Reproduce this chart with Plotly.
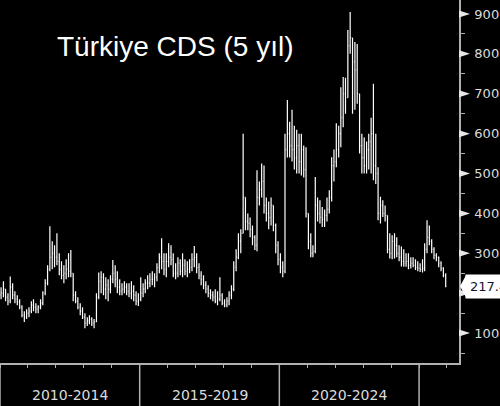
import plotly.graph_objects as go
import pandas as pd

# ---------------- data (monthly bars, Jan 2010 - Dec 2025) ----------------
start_month = "2010-01-01"
first_open = 195

high = [
    215, 230, 210, 200, 242, 225, 205, 195, 185, 170, 155, 160,   # 2010
    165, 180, 185, 175, 170, 185, 205, 235, 270, 368, 330, 320,   # 2011
    350, 300, 280, 270, 285, 300, 308, 250, 205, 190, 175, 165,   # 2012
    150, 140, 145, 140, 135, 200, 252, 255, 250, 240, 235, 245,   # 2013
    283, 270, 255, 235, 225, 230, 225, 225, 230, 220, 205, 200,   # 2014
    240, 225, 235, 245, 250, 255, 250, 275, 300, 338, 300, 300,   # 2015
    325, 320, 300, 275, 290, 285, 300, 285, 280, 285, 300, 318,   # 2016
    300, 275, 255, 245, 230, 220, 210, 205, 210, 205, 240, 200,   # 2017
    185, 190, 205, 220, 280, 310, 350, 360, 600, 440, 400, 390,   # 2018
    370, 345, 508, 480, 525, 520, 440, 430, 440, 420, 375, 330,   # 2019
    300, 280, 600, 684, 630, 660, 620, 610, 600, 600, 570, 566,   # 2020
    400, 350, 320, 491, 440, 433, 416, 410, 440, 458, 541, 560,   # 2021
    626, 620, 716, 742, 740, 860, 905, 840, 830, 825, 690, 600,   # 2022
    590, 580, 600, 640, 725, 600, 516, 442, 433, 420, 391, 350,   # 2023
    345, 350, 340, 320, 317, 310, 300, 300, 290, 290, 285, 280,   # 2024
    275, 285, 325, 383, 370, 335, 315, 300, 292, 280, 265, 250,   # 2025
]
low = [
    185, 190, 180, 170, 175, 185, 175, 170, 160, 140, 128, 135,
    140, 150, 155, 150, 150, 160, 170, 195, 220, 255, 260, 265,
    270, 245, 235, 225, 235, 240, 240, 180, 175, 160, 145, 135,
    112, 118, 122, 118, 112, 130, 185, 200, 195, 185, 180, 200,
    225, 215, 200, 195, 195, 200, 195, 190, 185, 180, 170, 168,
    180, 190, 200, 210, 215, 220, 215, 230, 250, 260, 245, 240,
    265, 270, 240, 235, 240, 245, 240, 245, 240, 250, 255, 265,
    250, 235, 220, 210, 200, 190, 185, 180, 175, 170, 180, 170,
    165, 165, 170, 185, 205, 255, 285, 300, 350, 358, 358, 340,
    320, 308, 305, 420, 440, 400, 380, 360, 370, 355, 300, 270,
    250, 240, 250, 540, 540, 530, 510, 500, 500, 495, 490, 390,
    310, 290, 290, 300, 380, 375, 366, 366, 380, 400, 430, 480,
    516, 540, 566, 616, 650, 690, 800, 650, 660, 675, 550, 500,
    500, 500, 510, 500, 483, 474, 383, 375, 391, 380, 300, 287,
    285, 287, 290, 280, 267, 266, 266, 260, 262, 265, 258, 255,
    253, 252, 255, 300, 320, 300, 285, 280, 265, 255, 240, 215,
]
close = [
    200, 210, 190, 180, 215, 195, 185, 178, 165, 145, 140, 150,
    155, 170, 165, 160, 165, 175, 200, 225, 260, 290, 300, 290,
    280, 260, 245, 250, 260, 255, 250, 195, 180, 165, 155, 140,
    125, 130, 135, 125, 128, 190, 230, 240, 210, 220, 210, 235,
    250, 235, 215, 205, 210, 215, 205, 200, 205, 195, 180, 185,
    200, 210, 225, 225, 235, 235, 240, 265, 290, 280, 260, 280,
    290, 285, 250, 250, 275, 255, 270, 255, 260, 265, 285, 290,
    265, 245, 235, 220, 210, 200, 195, 190, 180, 185, 195, 175,
    170, 180, 195, 210, 265, 290, 330, 350, 440, 380, 375, 360,
    340, 320, 440, 460, 480, 420, 400, 390, 420, 370, 320, 285,
    265, 255, 560, 600, 570, 560, 540, 570, 530, 560, 510, 400,
    330, 300, 305, 420, 400, 390, 385, 395, 410, 440, 520, 530,
    560, 600, 640, 700, 690, 820, 840, 780, 760, 700, 570, 540,
    520, 560, 580, 600, 520, 500, 400, 420, 400, 395, 310, 300,
    330, 320, 300, 290, 280, 275, 280, 270, 275, 270, 265, 262,
    260, 262, 310, 340, 330, 310, 295, 290, 275, 262, 245, 217.4,
]

y_ticks = [100, 200, 300, 400, 500, 600, 700, 800, 900]
y_minor = [50, 150, 250, 350, 450, 550, 650, 750, 850]
year_ticks = list(range(2010, 2027))
period_starts = [2010, 2015, 2020, 2025]
period_labels = ["2010-2014", "2015-2019", "2020-2024"]
title_text = "Türkiye CDS (5 yıl)"

# ---------------- derived ----------------
months = pd.date_range(start_month, periods=len(close), freq="MS") + pd.Timedelta(days=14)
opens = [first_open] + close[:-1]
hi = [max(h, o, c) for h, o, c in zip(high, opens, close)]
lo = [min(l, o, c) for l, o, c in zip(low, opens, close)]

W, H = 500, 406
ML, MR, MT, MB = 0, 41, 0, 43
plot_w = W - ML - MR
plot_h = H - MT - MB
y_range = [25, 935]


def ypaper(v):
    return (v - y_range[0]) / (y_range[1] - y_range[0])


axis_col = "#b0b0b0"
txt_col = "#dcdcdc"

fig = go.Figure()
fig.add_trace(go.Ohlc(
    x=months, open=opens, high=hi, low=lo, close=close,
    increasing=dict(line=dict(color="white", width=1.2)),
    decreasing=dict(line=dict(color="white", width=1.2)),
    tickwidth=0.35, hoverinfo="skip", showlegend=False,
))

shapes = []
# triangle markers on the major y ticks (paper coordinates derived from the axis range)
tri_w = 11 / plot_w
tri_h = 3.5 / plot_h
for v in y_ticks:
    yp = ypaper(v)
    shapes.append(dict(
        type="path", xref="paper", yref="paper",
        path=f"M 1.0 {yp - tri_h} L 1.0 {yp + tri_h} L {1.0 + tri_w} {yp} Z",
        fillcolor="#e8e8e8", line=dict(width=0), layer="above"))
# period separators below the x axis
for yr in period_starts:
    shapes.append(dict(
        type="line", xref="x", yref="paper",
        x0=f"{yr}-01-01", x1=f"{yr}-01-01", y0=0, y1=-0.2,
        line=dict(color=axis_col, width=1.5)))

annotations = []
for i, lab in enumerate(period_labels):
    mid = pd.Timestamp(f"{period_starts[i]}-01-01") + (
        pd.Timestamp(f"{period_starts[i + 1]}-01-01") - pd.Timestamp(f"{period_starts[i]}-01-01")) / 2
    annotations.append(dict(
        text=lab, x=mid, xref="x", y=-32 / plot_h, yref="paper",
        xanchor="center", yanchor="middle", showarrow=False,
        font=dict(family="DejaVu Sans", size=14, color=txt_col)))

annotations.append(dict(
    text=title_text, x=55 / plot_w, xref="paper", y=1 - 47 / plot_h, yref="paper",
    xanchor="left", yanchor="middle", showarrow=False,
    font=dict(family="Liberation Sans", size=28, color="white")))

# last value label
last = close[-1]
lp = ypaper(last)
box_left = 1.0 + 6 / plot_w
arrow_h = 11 / plot_h
shapes.append(dict(
    type="path", xref="paper", yref="paper",
    path=f"M {box_left + 1 / plot_w} {lp + arrow_h} L {1.0 + 1 / plot_w} {lp} L {box_left + 1 / plot_w} {lp - arrow_h} Z",
    fillcolor="white", line=dict(width=0), layer="above"))
annotations.append(dict(
    text=f"{last:.2f}", x=box_left, xref="paper", y=last, yref="y",
    xanchor="left", yanchor="middle", showarrow=False, bgcolor="white",
    borderpad=4, font=dict(family="DejaVu Sans", size=13, color="#141433")))

fig.update_layout(
    width=W, height=H,
    margin=dict(l=ML, r=MR, t=MT, b=MB),
    paper_bgcolor="black", plot_bgcolor="black",
    shapes=shapes, annotations=annotations,
    xaxis=dict(
        type="date", range=["2010-01-01", "2026-06-07"],
        rangeslider=dict(visible=False),
        showgrid=False, zeroline=False,
        showline=True, linecolor=axis_col, linewidth=1.5,
        tickvals=[f"{y}-01-01" for y in year_ticks],
        ticks="outside", ticklen=3, tickcolor=axis_col, tickwidth=1,
        showticklabels=False,
    ),
    yaxis=dict(
        range=y_range, side="right",
        showgrid=False, zeroline=False,
        showline=True, linecolor=axis_col, linewidth=1.5,
        tickvals=y_ticks, ticks="outside", ticklen=11, tickcolor="black", tickwidth=1,
        tickfont=dict(family="DejaVu Sans", size=13, color=txt_col),
        minor=dict(tickvals=y_minor, ticks="outside", ticklen=4, tickcolor=axis_col, tickwidth=1),
    ),
)

fig.write_html(
    "out.html",
    config={"displayModeBar": False},
    post_script="document.body.style.margin='0';document.body.style.background='black';",
)
